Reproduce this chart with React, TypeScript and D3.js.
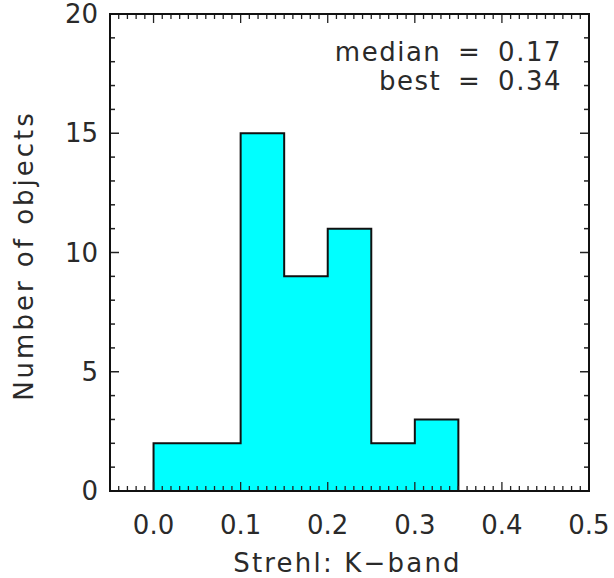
import React from 'react';
import * as d3 from 'd3';

// histogram bins (Strehl ratio, K-band)
const binEdges = [-0.05, 0.0, 0.05, 0.1, 0.15, 0.2, 0.25, 0.3, 0.35];
const counts = [0, 2, 2, 15, 9, 11, 2, 3];
const xTickLabels = ['0.0', '0.1', '0.2', '0.3', '0.4', '0.5'];
const yTickLabels = ['0', '5', '10', '15', '20'];
const statLines = ['median = 0.17', 'best = 0.34'];

const W = 614;
const H = 578;
const margin = { top: 14, right: 25, bottom: 87, left: 110 };
const font = '"DejaVu Sans", sans-serif';
const ink = '#2a2a2a';

const App = () => {
    const x = d3.scaleLinear().domain([-0.05, 0.5]).range([margin.left, W - margin.right]);
    const y = d3.scaleLinear().domain([0, 20]).range([H - margin.bottom, margin.top]);

    // step points: each bin starts at its left edge, last one closed at right edge
    const pts: [number, number][] = binEdges.slice(0, -1).map((e, i) => [e, counts[i]]);
    pts.push([binEdges[binEdges.length - 1], counts[counts.length - 1]]);

    const area = d3.area<[number, number]>()
        .x(d => x(d[0]))
        .y0(y(0))
        .y1(d => y(d[1]))
        .curve(d3.curveStepAfter);

    const line = d3.line<[number, number]>()
        .x(d => x(d[0]))
        .y(d => y(d[1]))
        .curve(d3.curveStepAfter);

    const outline = [...pts, [binEdges[binEdges.length - 1], 0] as [number, number]];

    const x0 = x.range()[0], x1 = x.range()[1];
    const y0 = y.range()[0], y1 = y.range()[1];

    const xMinor = d3.range(-5, 51).map(i => i / 100);
    const yMinor = d3.range(0, 21);

    return (
        <svg width={W} height={H} style={{ position: 'absolute', left: 0, top: 0, background: '#fff' }}>
            <path d={area(pts) || ''} fill="#00ffff" />
            <path d={line(outline) || ''} fill="none" stroke="#111" strokeWidth={2} />

            {/* x ticks, bottom and top */}
            {xMinor.map((v, i) => {
                const major = Math.round(v * 100) % 10 === 0;
                const len = major ? 9 : 5;
                return (
                    <g key={'xt' + i} stroke="#222" strokeWidth={1.3}>
                        <line x1={x(v)} x2={x(v)} y1={y0} y2={y0 - len} />
                        <line x1={x(v)} x2={x(v)} y1={y1} y2={y1 + len} />
                    </g>
                );
            })}
            {/* y ticks, left and right */}
            {yMinor.map(v => {
                const major = v % 5 === 0;
                const len = major ? 9 : 5;
                return (
                    <g key={'yt' + v} stroke="#222" strokeWidth={1.5}>
                        <line x1={x0} x2={x0 + len} y1={y(v)} y2={y(v)} />
                        <line x1={x1} x2={x1 - len} y1={y(v)} y2={y(v)} />
                    </g>
                );
            })}

            <rect x={x0} y={y1} width={x1 - x0} height={y0 - y1} fill="none" stroke="#111" strokeWidth={2} />

            {xTickLabels.map(t => (
                <text key={t} x={x(+t)} y={534} textAnchor="middle" fontFamily={font} fontSize={26} fill={ink}>{t}</text>
            ))}
            {yTickLabels.map(t => (
                <text key={t} x={98} y={y(+t) + 9} textAnchor="end" fontFamily={font} fontSize={26} fill={ink}>{t}</text>
            ))}

            <text x={(x0 + x1) / 2 - 2} y={572} textAnchor="middle" fontFamily={font} fontSize={26} fill={ink}
                letterSpacing={2.2}>
                Strehl: K−band
            </text>
            <text transform={`translate(33,${(y0 + y1) / 2 + 3}) rotate(-90)`} textAnchor="middle"
                fontFamily={font} fontSize={26} fill={ink} letterSpacing={3}>
                Number of objects
            </text>

            {statLines.map((s, i) => (
                <text key={s} x={562} y={61 + i * 29} textAnchor="end" fontFamily={font} fontSize={26}
                    fill={ink} letterSpacing={1.5} wordSpacing={7}>{s}</text>
            ))}
        </svg>
    );
};

export default App;
